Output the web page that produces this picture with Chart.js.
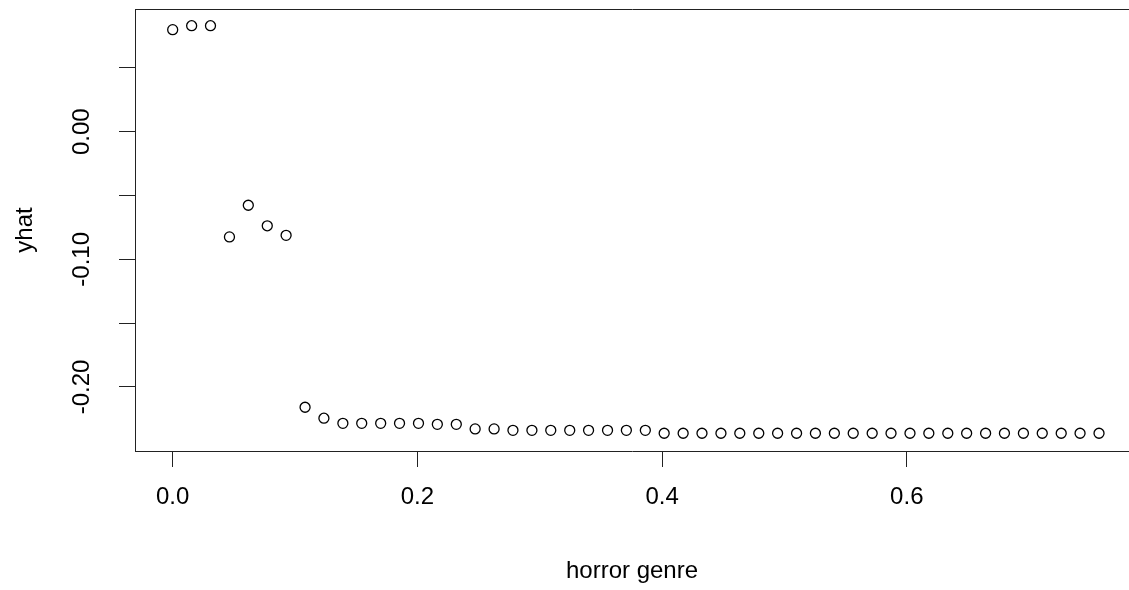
<!DOCTYPE html>
<html>
<head>
<meta charset="utf-8">
<script src="https://cdn.jsdelivr.net/npm/chart.js@4/dist/chart.umd.min.js"></script>
<style>
    html, body { margin: 0; padding: 0; background: #fff; }
    #wrap { width: 1129px; height: 590px; }
</style>
</head>
<body>
<div id="wrap"><canvas id="yhatChart" width="1129" height="590"></canvas></div>
<script>
// horror genre values on the x axis
const horrorGenre = [
    0.0000, 0.0155, 0.0309, 0.0464, 0.0618, 0.0773, 0.0927, 0.1082, 0.1236, 0.1391,
    0.1545, 0.1700, 0.1854, 0.2009, 0.2163, 0.2318, 0.2472, 0.2627, 0.2781, 0.2936,
    0.3090, 0.3245, 0.3399, 0.3554, 0.3708, 0.3863, 0.4017, 0.4172, 0.4326, 0.4481,
    0.4635, 0.4790, 0.4944, 0.5099, 0.5253, 0.5408, 0.5562, 0.5717, 0.5871, 0.6026,
    0.6180, 0.6335, 0.6489, 0.6644, 0.6798, 0.6953, 0.7107, 0.7262, 0.7416, 0.7571
];

// fitted values
const yhat = [
    0.0800, 0.0831, 0.0831, -0.0824, -0.0576, -0.0737, -0.0812, -0.2159, -0.2245, -0.2285,
    -0.2285, -0.2285, -0.2285, -0.2285, -0.2293, -0.2293, -0.2329, -0.2329, -0.2340, -0.2340,
    -0.2340, -0.2340, -0.2340, -0.2340, -0.2340, -0.2340, -0.2363, -0.2363, -0.2363, -0.2363,
    -0.2363, -0.2363, -0.2363, -0.2363, -0.2363, -0.2363, -0.2363, -0.2363, -0.2363, -0.2363,
    -0.2363, -0.2363, -0.2363, -0.2363, -0.2363, -0.2363, -0.2363, -0.2363, -0.2363, -0.2363
];

const xTicks = [0, 0.2, 0.4, 0.6];
const yTicks = [0.05, 0, -0.05, -0.10, -0.15, -0.20];
const yTickLabels = [[0, '0.00'], [-0.10, '-0.10'], [-0.20, '-0.20']];

const axisColor = '#222';
const fontFamily = '"Liberation Sans", Arial, sans-serif';

// y tick labels run along the axis, like base R graphics
const yLabelPlugin = {
    id: 'yLabels',
    afterDraw(chart) {
        const ctx = chart.ctx;
        const y = chart.scales.y;
        ctx.save();
        ctx.fillStyle = '#000';
        ctx.font = '24px ' + fontFamily;
        ctx.textAlign = 'center';
        ctx.textBaseline = 'middle';
        yTickLabels.forEach(function(t) {
            ctx.save();
            ctx.translate(82, y.getPixelForValue(t[0]));
            ctx.rotate(-Math.PI / 2);
            ctx.fillText(t[1], 0, 0);
            ctx.restore();
        });
        ctx.restore();
    }
};

const points = horrorGenre.map((x, i) => ({ x: x, y: yhat[i] }));

new Chart(document.getElementById('yhatChart'), {
    type: 'scatter',
    data: {
        datasets: [{
            data: points,
            pointStyle: 'circle',
            pointRadius: 5,
            pointBorderWidth: 1.3,
            pointBorderColor: '#000',
            pointBackgroundColor: 'rgba(0,0,0,0)',
            showLine: false
        }]
    },
    options: {
        responsive: false,
        devicePixelRatio: 1,
        animation: false,
        layout: {
            autoPadding: false,
            padding: { top: 9, left: 0, right: 0, bottom: 0 }
        },
        plugins: {
            legend: { display: false },
            tooltip: { enabled: false }
        },
        scales: {
            x: {
                type: 'linear',
                position: 'bottom',
                min: -0.0308,
                max: 0.7816,
                afterBuildTicks: function(scale) {
                    scale.ticks = xTicks.map(v => ({ value: v }));
                },
                afterFit: function(scale) {
                    scale.height = 139;
                },
                ticks: {
                    font: { size: 24, family: fontFamily },
                    color: '#000',
                    padding: 16,
                    maxRotation: 0,
                    callback: function(value) {
                        return value.toFixed(1);
                    }
                },
                grid: {
                    drawOnChartArea: false,
                    tickLength: 16,
                    tickWidth: 1,
                    tickColor: axisColor
                },
                border: { display: true, color: axisColor, width: 1 },
                title: {
                    display: true,
                    text: 'horror genre',
                    color: '#000',
                    font: { size: 24, family: fontFamily },
                    padding: { top: 0, bottom: 4 }
                }
            },
            x2: {
                type: 'linear',
                position: 'top',
                min: -0.0308,
                max: 0.7816,
                afterFit: function(scale) {
                    scale.height = 0;
                },
                ticks: { display: false },
                grid: { display: false },
                border: { display: true, color: axisColor, width: 1 }
            },
            y: {
                type: 'linear',
                position: 'left',
                min: -0.2502,
                max: 0.0962,
                afterBuildTicks: function(scale) {
                    scale.ticks = yTicks.map(v => ({ value: v }));
                },
                afterFit: function(scale) {
                    scale.width = 135;
                },
                ticks: { display: false },
                grid: {
                    drawOnChartArea: false,
                    tickLength: 16,
                    tickWidth: 1,
                    tickColor: axisColor
                },
                border: { display: true, color: axisColor, width: 1 },
                title: {
                    display: true,
                    text: 'yhat',
                    color: '#000',
                    font: { size: 24, family: fontFamily },
                    padding: { top: 11, bottom: 0 }
                }
            }
        }
    },
    plugins: [yLabelPlugin]
});
</script>
</body>
</html>
